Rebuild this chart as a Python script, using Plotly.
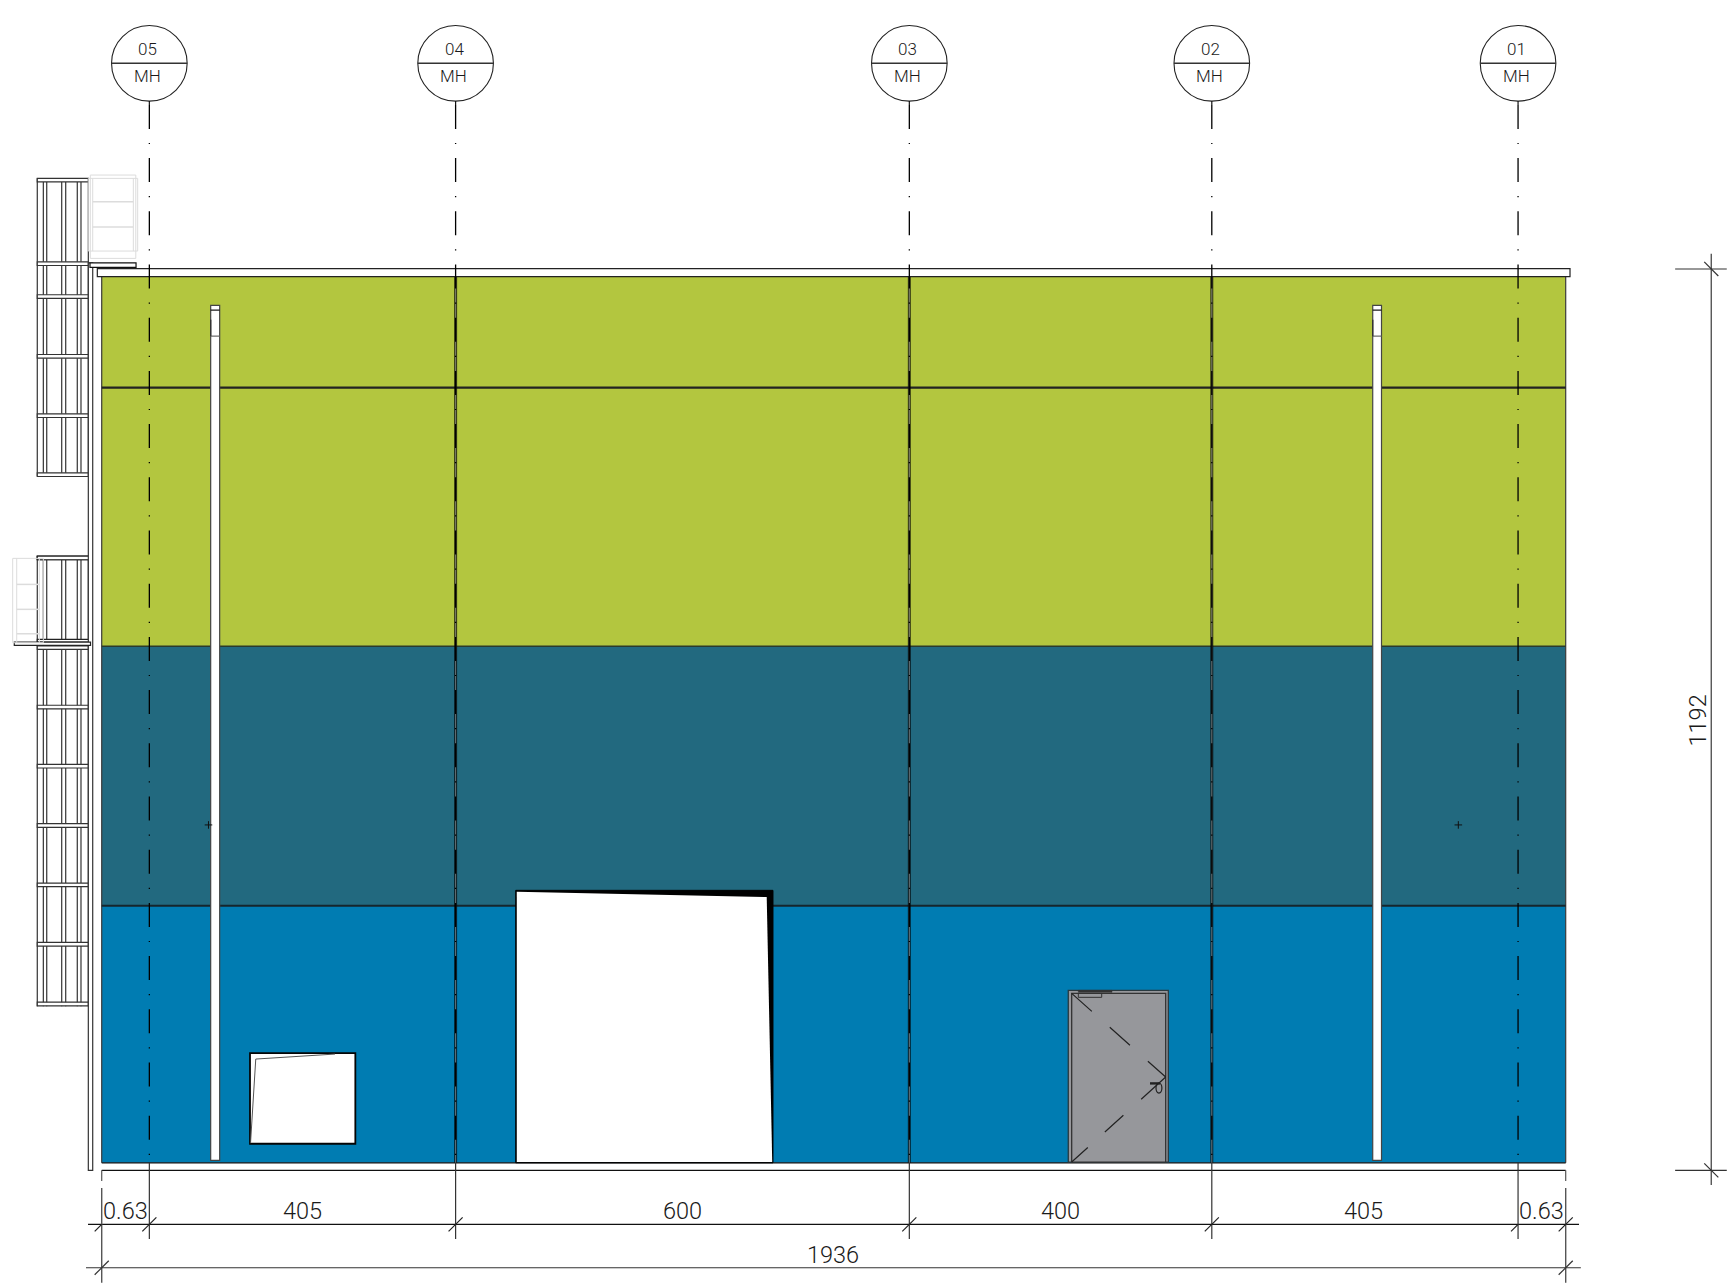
import plotly.graph_objects as go

# ---- values, in model units (drawing dimensions) ----
span_values = [63, 405, 600, 400, 405, 63]
span_labels = ["0.63", "405", "600", "400", "405", "0.63"]
span_label_x = [32, 266, 768, 1268, 1669, 1904]
total_label = "1936"
total_width = 1936
total_height = 1192
height_label = "1192"
grid_x = [63, 468, 1068, 1468, 1873]
grid_tags = ["05", "04", "03", "02", "01"]
grid_role = "MH"
wall_lines_x = [468, 1068, 1468]
band_edges = [10, 350, 693, 1182]
band_colors = ["#007CB2", "#22697F", "#B3C63F"]
course_lines = [350, 693, 1035]
pipes_x = [(144.1, 156.0), (1680.8, 1692.4)]
rails_x = [-85.2, -77.2, -72.7, -52.9, -47.6, -32.3, -27.4, -17.7]
upper_bands = [1309.5, 1199, 1155.5, 1076.5, 998, 920]
lower_bands = [810, 691.3, 612.7, 534.5, 456, 377.5, 299, 220]
upper_rail_y = (918, 1312)
lower_rail_y = (217, 812.4)
light_upper_rungs = [1280.9, 1247.4]
light_lower_rungs = [774.9, 741.9, 709.6]

C_LINE = "#1c1c1c"
C_LIGHT = "#dcdcdc"

fig = go.Figure()
S = []

def rect(x0, y0, x1, y1, fill=None, color=C_LINE, width=1):
    S.append(dict(type="rect", x0=x0, y0=y0, x1=x1, y1=y1, xref="x", yref="y",
                  fillcolor=fill if fill else "rgba(0,0,0,0)",
                  line=dict(color=color, width=width)))

def seg(x0, y0, x1, y1, color=C_LINE, width=1, dash="solid"):
    S.append(dict(type="line", x0=x0, y0=y0, x1=x1, y1=y1, xref="x", yref="y",
                  line=dict(color=color, width=width, dash=dash)))

def poly(points, fill=None, color=C_LINE, width=1, close=True):
    p = "M " + " L ".join(f"{a} {b}" for a, b in points) + (" Z" if close else "")
    S.append(dict(type="path", path=p, xref="x", yref="y",
                  fillcolor=fill if fill else "rgba(0,0,0,0)",
                  line=dict(color=color, width=width)))

# colour bands
for i, c in enumerate(band_colors):
    rect(0, band_edges[i], total_width, band_edges[i + 1], fill=c, color="rgba(0,0,0,0)", width=0)
seg(0, 10, 0, 1182, "#3a3a3a", 1.2)
seg(total_width, 10, total_width, 1182, "#3a3a3a", 1.2)
seg(0, 10, total_width, 10, "#111", 1.2)
seg(0, 0, total_width, 0, "#111", 1.2)
seg(0, 350, total_width, 350, "#16262c", 2)
seg(0, 693, total_width, 693, "#2a3a2c", 1.6)
seg(0, 1035, total_width, 1035, "#222", 2.2)
for x in wall_lines_x:
    seg(x, 10, x, 1182, "rgba(0,0,0,0.72)", 3)
    seg(x, 10, x, 1182, "rgba(190,190,190,0.55)", 1)
rect(-5.8, 1182, 1941.7, 1192.5, fill="white", color="#222", width=1.2)

# big door
rect(547.5, 10, 887.7, 370.3, fill="black", color="black", width=1)
poly([(548.9, 368.5), (879.4, 361.4), (886.7, 11.2), (548.9, 11.2)], fill="white", color="rgba(0,0,0,0)", width=0)

# window
rect(196.1, 35.2, 335.4, 155.1, fill="white", color="#050505", width=1.8)
poly([(196.8, 36), (203.7, 147.2), (308.5, 153.8)], color="#555", width=1, close=False)

# personnel door
rect(1278.2, 11, 1410.5, 238, fill="#96979B", color="#2a3a40", width=1.3)
rect(1282.7, 11, 1407, 234, fill="#96979B", color="#333", width=1.3)
rect(1291.5, 228.8, 1322.4, 234, color="#333", width=1)
rect(1291.5, 235.4, 1336, 238, fill="#333", color="#333", width=0.5)
seg(1282.7, 234, 1407, 123.4, "#222", 1.2, "27px,24px")
seg(1407, 123.4, 1282.7, 11, "#222", 1.2, "33px,24px,25px,23px")
seg(1386.3, 115, 1399.5, 115, "#222", 2.4)
S.append(dict(type="circle", x0=1394.2, x1=1402, y0=102.2, y1=115.4, xref="x", yref="y",
              line=dict(color="#222", width=1.2)))

# downpipes
for a, b in pipes_x:
    rect(a, 13.2, b, 1143.9, fill="white", color="#444", width=1.2)
    seg(a, 1137.6, b, 1137.6, "#111", 1.2)
    seg(a, 1103.2, b, 1103.2, "#666", 1.2)
    seg(a, 1103.2, a, 1125, "#333", 1.4)

# survey crosses
for x, y in [(141.2, 456.8), (1794, 456.8)]:
    seg(x - 5, y, x + 5, y, "#111", 1)
    seg(x, y - 5, x, y + 5, "#111", 1)

# ladder rails and bands
for lo, hi in (upper_rail_y, lower_rail_y):
    for x in rails_x:
        seg(x, lo, x, hi, "#333", 1.2)
for y in upper_bands + lower_bands:
    rect(-85.2, y - 2.4, -17.7, y + 2.4, fill="white", color="#333", width=1.2)
rect(-85.2, 807.5, -14.8, 812.4, fill="white", color="#222", width=1.2)
rect(-85.2, 698.6, -14.8, 702.2, fill="white", color="#222", width=1.2)
rect(-17.7, 0, -11.9, 1200, fill="white", color="#333", width=1.2)
rect(-15.5, 1194.1, 45.4, 1200.2, fill="white", color="#111", width=1.2)
rect(-115.6, 694.3, -14.8, 698.6, fill="white", color="#222", width=1.2)

# pale ladder outlines
rect(-15.1, 1206, 45.1, 1316.2, color=C_LIGHT)
rect(-17.7, 1215.7, 47.6, 1311.8, color=C_LIGHT)
seg(-11.9, 1215.7, -11.9, 1311.8, C_LIGHT)
seg(41.8, 1215.7, 41.8, 1311.8, C_LIGHT)
for y in light_upper_rungs:
    seg(-11.9, y, 41.8, y, C_LIGHT, 1.5)
rect(-117.7, 697.7, -77.2, 809.3, color=C_LIGHT)
seg(-112.4, 697.7, -112.4, 809.3, C_LIGHT)
seg(-82.5, 697.7, -82.5, 809.3, C_LIGHT)
for y in light_lower_rungs:
    seg(-112.4, y, -82.5, y, C_LIGHT, 1.5)

# grid bubbles and axis lines
for x in grid_x:
    S.append(dict(type="circle", x0=x - 50, x1=x + 50, y0=1414, y1=1514, xref="x", yref="y",
                  fillcolor="white", line=dict(color="#222", width=1.1)))
    seg(x - 50, 1464, x + 50, 1464, "#333", 1.4)
    seg(x, 1414, x, 1409, "#111", 1.2)
    seg(x, 1409, x, 10, "#000", 1.3, "24px,14px,1.2px,14px")

# dimension lines
ROW1, ROW2, T = -71.4, -128.8, 9.3
seg(-18.1, ROW1, 1953.6, ROW1, "#111", 1.2)
seg(-20.8, ROW2, 1956, ROW2, "#333", 1.2)
for x in grid_x:
    seg(x, 10, x, -90.8, "#333", 1.2)
for x in (0, total_width):
    seg(x, 0, x, -14.1, "#555", 1.2)
    seg(x, -23.4, x, -148.6, "#555", 1.4)
for x in grid_x[:4] + [total_width]:
    seg(x - T, ROW1 - T, x + T, ROW1 + T, "#222", 1.2)
for x in (0, grid_x[4]):
    seg(x - T, ROW1 - T, x, ROW1, "#222", 1.2)
for x in (0, total_width):
    seg(x - T, ROW2 - T, x + T, ROW2 + T, "#333", 1.2)
VX = 2128.5
seg(VX, -19.4, VX, 1212, "#555", 1.4)
for y in (0, total_height):
    seg(2080.7, y, 2149, y, "#333", 1.2)
    seg(VX - T, y + T, VX + T, y - T, "#333", 1.2)

FONT = "Roboto"
ann = []
def label(x, y, text, size, angle=0):
    ann.append(dict(x=x, y=y, text=text, xref="x", yref="y", showarrow=False, textangle=angle,
                    xanchor="center", yanchor="middle",
                    font=dict(family=FONT, size=size, weight=300, color="#1a1a1a")))

for x, t in zip(grid_x, grid_tags):
    label(x - 2, 1483, t, 17)
    label(x - 2.5, 1447, grid_role, 17)
for x, t in zip(span_label_x, span_labels):
    label(x, -54, t, 23.5)
label(967, -112, total_label, 23.5)
label(2111, 595, height_label, 23.5, -90)

fig.update_layout(
    width=1736, height=1285, margin=dict(l=0, r=0, t=0, b=0),
    paper_bgcolor="white", plot_bgcolor="white", showlegend=False,
    xaxis=dict(range=[-134.5, 2161.2], visible=False, fixedrange=True),
    yaxis=dict(range=[-151.6, 1547.7], visible=False, fixedrange=True),
    shapes=S, annotations=ann,
)
fig.write_html("out.html", post_script="document.body.style.margin='0';", config={"displayModeBar": False})
